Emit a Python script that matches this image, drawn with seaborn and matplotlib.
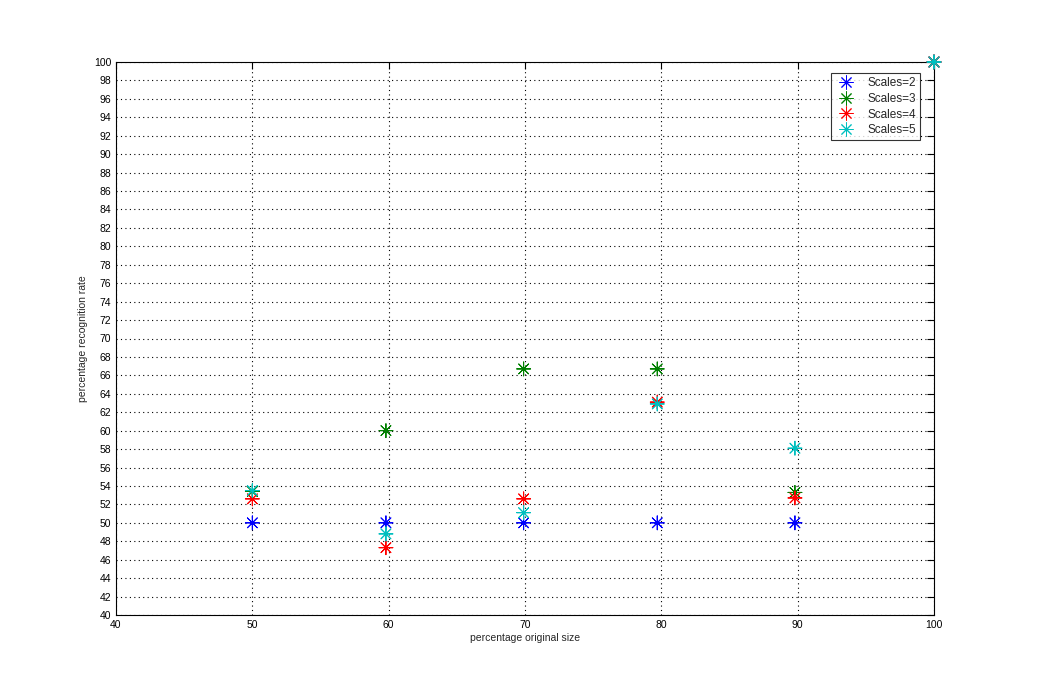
import matplotlib
matplotlib.use("Agg")
import matplotlib.pyplot as plt
import seaborn as sns
import pandas as pd
import numpy as np

sizes = [50, 59.8, 69.9, 79.7, 89.8, 100]
scales2 = [50.0, 50.0, 50.0, 50.0, 50.0, 100.0]
scales3 = [53.4, 60.0, 66.7, 66.7, 53.3, 100.0]
scales4 = [52.6, 47.3, 52.6, 63.1, 52.7, 100.0]
scales5 = [53.5, 48.8, 51.1, 62.9, 58.1, 100.0]
labels = ["Scales=2", "Scales=3", "Scales=4", "Scales=5"]
colors = ["#0000ff", "#008000", "#ff0000", "#00bfbf"]

sns.set_style("white")
plt.rcParams['font.family'] = ['Liberation Sans', 'DejaVu Sans']

rows = []
for lab, vals in zip(labels, [scales2, scales3, scales4, scales5]):
    for x, y in zip(sizes, vals):
        rows.append({"size": x, "rate": y, "series": lab})
df = pd.DataFrame(rows)

fig = plt.figure(figsize=(10.52, 6.79), dpi=100)
ax = fig.add_axes([116/1052, 1-615/679, (934-116)/1052, (615-62)/679])

sns.scatterplot(data=df, x="size", y="rate", hue="series", palette=colors,
                marker=(8, 2, 0), s=100, linewidth=0.7, ax=ax, legend=True,
                clip_on=False, zorder=3)

ax.set_xlim(40, 100)
ax.set_ylim(40, 100)
ax.set_xticks(np.arange(40, 101, 10))
ax.set_yticks(np.arange(40, 101, 2))
ax.grid(True, color="black", linestyle=(0, (1, 3)), linewidth=0.8)
ax.tick_params(direction="in", length=5, labelsize=7.5, top=True, right=True,
               colors="black", width=0.8)
for sp in ax.spines.values():
    sp.set_color("black")
    sp.set_linewidth(0.8)
ax.set_xlabel("percentage original size", fontsize=7.5, labelpad=2)
ax.set_ylabel("percentage recognition rate", fontsize=7.5, labelpad=4)

leg = ax.legend(loc="upper right", bbox_to_anchor=(0.9895, 0.99), fontsize=8.5,
                frameon=True, fancybox=False, edgecolor="black",
                borderpad=0.3, handletextpad=0.8, handlelength=2.0,
                labelspacing=0.32)
leg.get_frame().set_linewidth(0.8)
leg.set_title(None)

fig.savefig("out.png", dpi=100, facecolor="white")
